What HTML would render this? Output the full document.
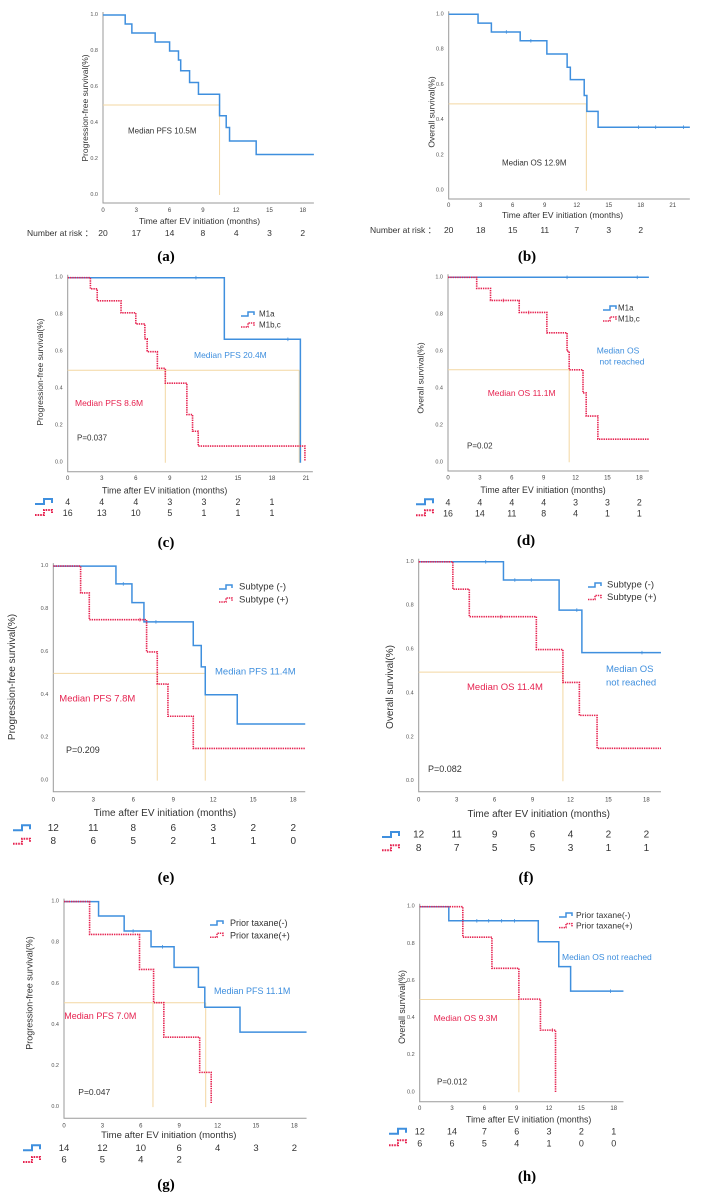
<!DOCTYPE html>
<html><head><meta charset="utf-8"><style>
html,body{margin:0;padding:0;background:#fff}
svg{display:block;font-family:"Liberation Sans",sans-serif}
</style></head><body>
<svg id="fig" width="705" height="1203" viewBox="0 0 705 1203" xmlns="http://www.w3.org/2000/svg"></svg>
<script>
// ---- data (months / survival) ----
const monthTicks=[0,3,6,9,12,15,18,21];
const survTicks=[0,0.2,0.4,0.6,0.8,1.0];
const aT=[2.0,2.6,4.7,6.0,6.8,7.0,7.8,8.6,10.5,11.1,11.4,13.8];
const aS=[0.95,0.90,0.85,0.80,0.75,0.69,0.625,0.56,0.44,0.375,0.30,0.225];
const bT=[2.75,4.0,6.7,9.2,11.1,11.4,12.7,12.95,14.0];
const bS=[0.95,0.90,0.85,0.775,0.70,0.63,0.54,0.45,0.36];
const bC=[5.4,7.7,17.8,19.4,22.0];
const cBT=[13.8,20.5], cBS=[0.667,0], cBC=[11.3,19.4];
const cRT=[2.0,2.6,4.7,6.0,6.8,7.0,7.9,8.6,10.5,11.0,11.5,20.9];
const cRS=[0.94,0.875,0.81,0.75,0.67,0.60,0.51,0.43,0.26,0.17,0.09,0.01];
const dBT=[], dBS=[], dBC=[11.2,17.8];
const dRT=[2.7,4.0,6.7,9.3,11.2,11.4,12.7,13.0,14.1];
const dRS=[0.94,0.875,0.81,0.70,0.60,0.50,0.375,0.25,0.125];
const dRC=[5.2,7.6];
const eBT=[4.7,5.9,6.8,10.5,11.1,11.4,13.8];
const eBS=[0.917,0.83,0.74,0.63,0.53,0.40,0.264];
const eBC=[5.25,7.7];
const eRT=[2.05,2.7,7.0,7.8,8.6,10.5];
const eRS=[0.875,0.75,0.60,0.45,0.30,0.15];
const eRC=[6.5];
const fBT=[6.7,11.1,12.9], fBS=[0.917,0.78,0.586], fBC=[5.3,7.6,8.9,12.5,17.65];
const fRT=[2.7,4.0,9.3,11.4,12.7,14.1], fRS=[0.875,0.75,0.60,0.45,0.30,0.15], fRC=[6.5];
const gBT=[2.7,4.7,6.8,8.6,10.5,11.0,13.75], gBS=[0.93,0.857,0.78,0.68,0.583,0.486,0.365], gBC=[5.4,7.7];
const gRT=[2.0,5.9,7.0,7.8,10.6,11.5], gRS=[0.84,0.67,0.508,0.34,0.169,0.02];
const hBT=[2.7,11.0,12.9,14.0], hBS=[0.924,0.811,0.677,0.545], hBC=[5.3,6.4,7.6,8.8,17.7];
const hRT=[4.0,6.7,9.2,11.2,12.6], hRS=[0.836,0.668,0.502,0.335,0], hRC=[12.3];
const aRisk=[20,17,14,8,4,3,2], bRisk=[20,18,15,11,7,3,2];
const cRiskB=[4,4,4,3,3,2,1], cRiskR=[16,13,10,5,1,1,1];
const dRiskB=[4,4,4,4,3,3,2], dRiskR=[16,14,11,8,4,1,1];
const eRiskB=[12,11,8,6,3,2,2], eRiskR=[8,6,5,2,1,1,0];
const fRiskB=[12,11,9,6,4,2,2], fRiskR=[8,7,5,5,3,1,1];
const gRiskB=[14,12,10,6,4,3,2], gRiskR=[6,5,4,2];
const hRiskB=[12,14,7,6,3,2,1], hRiskR=[6,6,5,4,1,0,0];
const medA=[10.5],medB=[12.9],medC=[8.6,20.4],medD=[11.4],medE=[7.8,11.4],medF=[11.4],medG=[6.95,11.07],medH=[9.2];
const medLevel=[0.5,0.492,0.5,0.5,0.5,0.497,0.508,0.5];

const NS="http://www.w3.org/2000/svg", svg=document.getElementById('fig');
const BLUE="#3f8fde", RED="#e62350", MED="#f3d7a2";
function mk(tag,attrs,parent){const e=document.createElementNS(NS,tag);for(const k in attrs)e.setAttribute(k,attrs[k]);(parent||svg).appendChild(e);return e;}
function txt(s,x,y,fs,fill,anchor,parent,extra){const t=mk('text',Object.assign({x:x,y:y,'font-size':fs,fill:fill||'#333','text-anchor':anchor||'start','dominant-baseline':'central'},extra||{}),parent);t.textContent=s;return t;}

function panel(P){
  const g=mk('g',{});
  
  
  const X=m=>P.ox+m*P.xs, Y=s=>P.y0-(P.y0-P.y1)*s;
  // axes
  const ax=mk('path',{d:`M${P.ox},${P.y1-3}V${P.axisY}H${X(P.xEnd)}`,stroke:'#9a9a9a','stroke-width':1,fill:'none'},g);
   
  monthTicks.filter(m=>m<=P.tmax).forEach(m=>{const t=txt(String(m),X(m),P.tickY,P.tfs,'#444','middle',g);
    });
  survTicks.forEach(s=>{const t=txt(s.toFixed(1),P.ox-5,Y(s),5.5,'#555','end',g);
    });
  const xt=txt('Time after EV initiation (months)',P.xtx,P.xty,P.fs,'#333','middle',g);
  
  const yt=txt(P.ytitle,0,0,P.yfs,'#333','middle',g,{transform:`translate(${P.ytx},${P.yty}) rotate(-90)`});
  
  // median guide lines
  const lv=Y(P.medLevel), mx=Math.max(...P.med);
  let md=`M${P.ox},${lv}H${X(mx)}`; P.med.forEach(m=>{md+=`M${X(m)},${lv}V${P.y0}`;});
  const ml=mk('path',{d:md,stroke:MED,'stroke-width':1,fill:'none'},g);
  
  // curves
  P.curves.forEach(c=>{
    let d=`M${X(0)},${Y(1)}`, last=1;
    c.T.forEach((t,i)=>{d+=`H${X(t)}V${Y(c.S[i])}`;last=c.S[i];});
    if(last>0.05)d+=`H${X(P.xEnd)}`;
    const p=mk('path',{d:d,stroke:c.red?RED:BLUE,'stroke-width':c.red?1.6:1.5,fill:'none','stroke-dasharray':c.red?'1.4,0.9':'none'},g);
    
    (c.C||[]).forEach(t=>{let s=1;c.T.forEach((tt,i)=>{if(tt<=t)s=c.S[i];});
      const m=mk('line',{x1:X(t),x2:X(t),y1:Y(s)-1.8,y2:Y(s)+1.8,stroke:c.red?RED:BLUE,'stroke-width':0.8},g);
      });
  });
  // labels
  (P.labels||[]).forEach(L=>{const t=txt(L[0],L[1],L[2],L[3],L[4],L[5]||'start',g);
    });
  // legend
  if(P.legend){P.legend.forEach((L,i)=>{
    const lx=P.legend.x, ly=P.legend.y+i*P.legend.dy;
    const ic=mk('path',{d:`M${lx},${ly+2}H${lx+7}V${ly-2}H${lx+13}V${ly+1}`,stroke:i?RED:BLUE,'stroke-width':1.5,fill:'none','stroke-dasharray':i?'1.4,0.9':'none'},g);
    
    const t=txt(L,lx+P.legend.tx,ly,P.legend.fs,'#333','start',g);
    });}
  // risk table
  if(P.riskLabel){const t=txt('Number at risk ：',P.riskLabel,P.riskY[0],P.rfs,'#333','start',g);
    }
  P.risk.forEach((row,r)=>{
    if(P.riskIcon){const ix=P.riskIcon, iy=P.riskY[r];
      const ic=mk('path',{d:`M${ix},${iy+2}H${ix+9}V${iy-3}H${ix+17}V${iy+1}`,stroke:r?RED:BLUE,'stroke-width':2,fill:'none','stroke-dasharray':r?'1.6,1':'none'},g);
      }
    row.forEach((v,i)=>{const t=txt(String(v),X(monthTicks[i])+(P.riskShift||0),P.riskY[r],P.rfs,'#333','middle',g);
      });
  });
  const pl=txt('('+P.id+')',P.lx,P.ly,15,'#000','middle',g,{'font-family':'Liberation Serif, serif','font-weight':'bold'});
  
}

const PFS='Progression-free survival(%)', OS='Overall survival(%)';
panel({id:'a',ox:103,xs:11.1,y1:15,y0:195,axisY:203,xEnd:19,tmax:18,tickY:211,tfs:6,xtx:199.5,xty:221,fs:8.5,ytitle:PFS,ytx:85,yty:108,yfs:8.5,
  medLevel:medLevel[0],med:medA,curves:[{T:aT,S:aS,name:'pfs-curve'}],
  labels:[['Median PFS 10.5M',128,131,8,'#333','start','median-label']],
  riskLabel:27,riskY:[233],rfs:8.5,risk:[aRisk],lx:166,ly:257});
panel({id:'b',ox:448.7,xs:10.67,y1:14.3,y0:190.7,axisY:199,xEnd:22.6,tmax:21,tickY:206,tfs:6,xtx:562.5,xty:215,fs:8.5,ytitle:OS,ytx:431.3,yty:112,yfs:8.5,
  medLevel:medLevel[1],med:medB,curves:[{T:bT,S:bS,C:bC,name:'os-curve'}],
  labels:[['Median OS 12.9M',502,163,8,'#333','start','median-label']],
  riskLabel:370,riskY:[230],rfs:8.5,risk:[bRisk],lx:527,ly:257});
panel({id:'c',ox:67.7,xs:11.35,y1:277.7,y0:462.7,axisY:471.7,xEnd:21.6,tmax:21,tickY:479,tfs:6,xtx:164.7,xty:490.7,fs:8.8,ytitle:PFS,ytx:40,yty:372,yfs:8.5,
  medLevel:medLevel[2],med:medC,curves:[{T:cBT,S:cBS,C:cBC,name:'m1a-curve'},{T:cRT,S:cRS,red:1,name:'m1bc-curve'}],
  labels:[['Median PFS 20.4M',194,355,8.5,BLUE,'start','median-label-m1a'],['Median PFS 8.6M',75,403,8.5,RED,'start','median-label-m1bc'],['P=0.037',77,438,8,'#333','start','p-value']],
  legend:Object.assign(['M1a','M1b,c'],{x:241,y:314,dy:11,tx:18,fs:8}),
  riskIcon:35,riskY:[502,513],rfs:8.8,risk:[cRiskB,cRiskR],lx:166,ly:543});
panel({id:'d',ox:448,xs:10.63,y1:277.3,y0:462.3,axisY:471,xEnd:18.9,tmax:18,tickY:478.3,tfs:6,xtx:543,xty:490,fs:8.8,ytitle:OS,ytx:420.3,yty:378,yfs:8.5,
  medLevel:medLevel[3],med:medD,curves:[{T:dBT,S:dBS,C:dBC,name:'m1a-curve'},{T:dRT,S:dRS,C:dRC,red:1,name:'m1bc-curve'}],
  labels:[['Median OS',618,350.7,8.5,BLUE,'middle','median-label-m1a'],['not reached',622,361.7,8.5,BLUE,'middle','median-label-m1a-2'],['Median OS 11.1M',487.7,393,8.5,RED,'start','median-label-m1bc'],['P=0.02',467,446,8,'#333','start','p-value']],
  legend:Object.assign(['M1a','M1b,c'],{x:603,y:308,dy:11,tx:15,fs:8}),
  riskIcon:416,riskY:[502.3,513.3],rfs:8.8,risk:[dRiskB,dRiskR],lx:526,ly:541});
panel({id:'e',ox:53.3,xs:13.33,y1:566.1,y0:780.6,axisY:791.7,xEnd:18.9,tmax:18,tickY:800.7,tfs:6,xtx:165,xty:813.3,fs:10,ytitle:PFS,ytx:12.7,yty:677,yfs:10,
  medLevel:medLevel[4],med:medE,curves:[{T:eBT,S:eBS,C:eBC,name:'subtype-neg-curve'},{T:eRT,S:eRS,C:eRC,red:1,name:'subtype-pos-curve'}],
  labels:[['Median PFS 11.4M',215,672,9.5,BLUE,'start','median-label-neg'],['Median PFS 7.8M',59.3,699,9.5,RED,'start','median-label-pos'],['P=0.209',66,750,9,'#333','start','p-value']],
  legend:Object.assign(['Subtype (-)','Subtype (+)'],{x:219,y:587,dy:13,tx:20,fs:9.5}),
  riskIcon:13,riskY:[828.3,841.7],rfs:10,risk:[eRiskB,eRiskR],lx:166,ly:878});
panel({id:'f',ox:418.7,xs:12.65,y1:561.8,y0:781.2,axisY:791.7,xEnd:19.15,tmax:18,tickY:800.7,tfs:6,xtx:538.7,xty:814.3,fs:10,ytitle:OS,ytx:390.3,yty:687,yfs:10,
  medLevel:medLevel[5],med:medF,curves:[{T:fBT,S:fBS,C:fBC,name:'subtype-neg-curve'},{T:fRT,S:fRS,C:fRC,red:1,name:'subtype-pos-curve'}],
  labels:[['Median OS',606,669.7,9.5,BLUE,'start','median-label-neg'],['not reached',606,683,9.5,BLUE,'start','median-label-neg-2'],['Median OS 11.4M',467,687.7,9.5,RED,'start','median-label-pos'],['P=0.082',428,769,9,'#333','start','p-value']],
  legend:Object.assign(['Subtype (-)','Subtype (+)'],{x:588,y:585,dy:12.5,tx:19,fs:9.5}),
  riskIcon:382,riskY:[835,848.3],rfs:10,risk:[fRiskB,fRiskR],lx:526,ly:878});
panel({id:'g',ox:64,xs:12.8,y1:901.6,y0:1107.1,axisY:1118.3,xEnd:18.95,tmax:18,tickY:1126.7,tfs:6,xtx:168.8,xty:1135.3,fs:9.5,ytitle:PFS,ytx:29.3,yty:993,yfs:9,
  medLevel:medLevel[6],med:medG,curves:[{T:gBT,S:gBS,C:gBC,name:'taxane-neg-curve'},{T:gRT,S:gRS,red:1,name:'taxane-pos-curve'}],
  labels:[['Median PFS 11.1M',214,991,9,BLUE,'start','median-label-neg'],['Median PFS 7.0M',64.3,1016,9,RED,'start','median-label-pos'],['P=0.047',78.3,1092,8.5,'#333','start','p-value']],
  legend:Object.assign(['Prior taxane(-)','Prior taxane(+)'],{x:210,y:923,dy:12.3,tx:20,fs:9}),
  riskIcon:23,riskY:[1148.3,1160],rfs:9.5,risk:[gRiskB,gRiskR],lx:166,ly:1185});
panel({id:'h',ox:419.7,xs:10.78,y1:906.7,y0:1092.3,axisY:1101.7,xEnd:18.9,tmax:18,tickY:1109,tfs:6,xtx:528.7,xty:1119.3,fs:8.8,ytitle:OS,ytx:402,yty:1007,yfs:8.8,
  medLevel:medLevel[7],med:medH,curves:[{T:hBT,S:hBS,C:hBC,name:'taxane-neg-curve'},{T:hRT,S:hRS,C:hRC,red:1,name:'taxane-pos-curve'}],
  labels:[['Median OS not reached',562,957,8.5,BLUE,'start','median-label-neg'],['Median OS 9.3M',433.7,1018,8.5,RED,'start','median-label-pos'],['P=0.012',437,1082,8,'#333','start','p-value']],
  legend:Object.assign(['Prior taxane(-)','Prior taxane(+)'],{x:559,y:915,dy:10.6,tx:17,fs:8.5}),
  riskIcon:389,riskY:[1131.7,1143.3],rfs:9,risk:[hRiskB,hRiskR],lx:527,ly:1177});
</script>
</body></html>
